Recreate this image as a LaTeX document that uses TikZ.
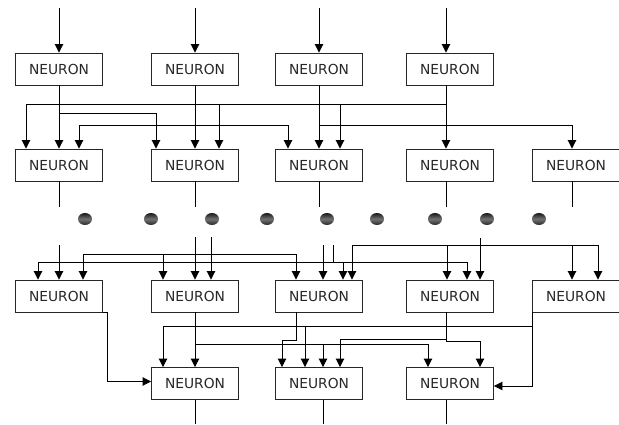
\documentclass[tikz,border=0pt]{standalone}
\usepackage{fontspec}
\setmainfont{DejaVu Sans}
\usetikzlibrary{arrows.meta,shapes.geometric}
\begin{document}
\begin{tikzpicture}[x=1pt,y=-1pt,
  line width=0.9pt, draw=black,
  neuron/.style={draw=black!85, line width=0.9pt, minimum width=87pt, minimum height=32pt, inner sep=0pt,
    font=\fontsize{13.8}{15}\selectfont, text=black!85},
  arr/.style={-{Triangle[length=8.5pt,width=8.5pt]}},
  dotnode/.style={ellipse, minimum width=14pt, minimum height=12pt, inner sep=0pt,
    top color=black!90, bottom color=black!85, middle color=black!55}]
\useasboundingbox (0,0) rectangle (619,425);
% nodes
\node[neuron] (a1) at (59,69) {NEURON};
\node[neuron] (a2) at (195,69) {NEURON};
\node[neuron] (a3) at (319,69) {NEURON};
\node[neuron] (a4) at (450,69) {NEURON};
\node[neuron] (b1) at (59,165) {NEURON};
\node[neuron] (b2) at (195,165) {NEURON};
\node[neuron] (b3) at (319,165) {NEURON};
\node[neuron] (b4) at (450,165) {NEURON};
\node[neuron] (b5) at (576,165) {NEURON};
\node[neuron] (c1) at (59,296) {NEURON};
\node[neuron] (c2) at (195,296) {NEURON};
\node[neuron] (c3) at (319,296) {NEURON};
\node[neuron] (c4) at (450,296) {NEURON};
\node[neuron] (c5) at (576,296) {NEURON};
\node[neuron] (d1) at (195,383.5) {NEURON};
\node[neuron] (d2) at (319,383.5) {NEURON};
\node[neuron] (d3) at (450,383.5) {NEURON};
% dots
\foreach \i/\x in {1/85,2/151,3/212,4/267,5/327,6/377,7/435,8/487,9/539}
  \node[dotnode] (p\i) at (\x,219) {};
% top inputs
\coordinate (i1) at (59,8);
\coordinate (i2) at (195,8);
\coordinate (i3) at (319,8);
\coordinate (i4) at (446,8);
\draw[arr] (i1) -- (i1 |- a1.north);
\draw[arr] (i2) -- (i2 |- a2.north);
\draw[arr] (i3) -- (i3 |- a3.north);
\draw[arr] (i4) -- (i4 |- a4.north);
% row 1 -> row 2
\draw[arr] (a1.south) -- (b1.north);
\draw[arr] (a1.south) -- ++(0,28) -| ([xshift=-39]b2.north);
\draw[arr] (a2.south) -- (b2.north);
\draw[arr] (a2.south) -- ++(0,40) -| ([xshift=20]b1.north);
\draw[arr] (a2.south) -- ++(0,40) -| ([xshift=-31]b3.north);
\draw[arr] (a3.south) -- (b3.north);
\draw[arr] (a3.south) -- ++(0,40) -| ([xshift=-4]b5.north);
\draw[arr] ([xshift=-4]a4.south) -- ([xshift=-4]b4.north);
\draw[arr] ([xshift=-4]a4.south) -- ++(0,19) -| ([xshift=-33]b1.north);
\draw[arr] ([xshift=-4]a4.south) -- ++(0,19) -| ([xshift=24]b2.north);
\draw[arr] ([xshift=-4]a4.south) -- ++(0,19) -| ([xshift=21]b3.north);
% row 2 outputs
\coordinate (o1) at (59,207);
\coordinate (o2) at (195,207);
\coordinate (o3) at (319,207);
\coordinate (o4) at (446,207);
\coordinate (o5) at (572,207);
\draw (o1 |- b1.south) -- (o1);
\draw (o2 |- b2.south) -- (o2);
\draw (o3 |- b3.south) -- (o3);
\draw (o4 |- b4.south) -- (o4);
\draw (o5 |- b5.south) -- (o5);
% row 3 inputs
\coordinate (s1) at (59,245);
\coordinate (s2) at (195,237);
\coordinate (s3) at (211,237);
\coordinate (s4) at (323,245);
\coordinate (s5) at (333,245);
\coordinate (s6) at (480,238);
\draw[arr] (s1) -- (s1 |- c1.north);
\draw[arr] (s2) -- (s2 |- c2.north);
\draw[arr] (s3) -- (s3 |- c2.north);
\draw[arr] (s3) -- ++(0,17) -| ([xshift=24]c1.north);
\draw[arr] (s3) -- ++(0,17) -| ([xshift=-32]c2.north);
\draw[arr] (s3) -- ++(0,17) -| ([xshift=-23]c3.north);
\draw[arr] (s4) -- (s4 |- c3.north);
\draw[arr] (s5) -- ++(0,17) -| ([xshift=-21]c1.north);
\draw[arr] (s5) -- ++(0,17) -| ([xshift=24]c3.north);
\draw[arr] (s5) -- ++(0,17) -| ([xshift=17]c4.north);
\draw[arr] (s6) -- (s6 |- c4.north);
\draw[arr] (s6) -- ++(0,7) -| ([xshift=33]c3.north);
\draw[arr] (s6) -- ++(0,7) -| ([xshift=-3]c4.north);
\draw[arr] (s6) -- ++(0,7) -| ([xshift=-4]c5.north);
\draw[arr] (s6) -- ++(0,7) -| ([xshift=22]c5.north);
% row 3 -> row 4
\draw[arr] (c1.south east) -- ++(4,0) |- ([yshift=2]d1.west);
\draw[arr] (c2.south) -- (d1.north);
\draw[arr] (c2.south) -- ++(0,32) -| ([xshift=4]d2.north);
\draw[arr] (c2.south) -- ++(0,32) -| ([xshift=-22]d3.north);
\draw[arr] ([xshift=-23]c3.south) -- ++(0,28) -| ([xshift=-37]d2.north);
\draw[arr] ([xshift=-4]c4.south) -- ++(0,27) -| ([xshift=21]d2.north);
\draw[arr] ([xshift=-4]c4.south) -- ++(0,29) -| ([xshift=30]d3.north);
\draw[arr] (c5.south west) |- ([yshift=-2.5]d3.east);
\draw[arr] (c5.south west) -- ++(0,14) -| ([xshift=-32]d1.north);
\draw[arr] (c5.south west) -- ++(0,14) -| ([xshift=-14]d2.north);
% row 4 outputs
\coordinate (e1) at (195,424);
\coordinate (e2) at (323,424);
\coordinate (e3) at (446,424);
\draw (e1 |- d1.south) -- (e1);
\draw (e2 |- d2.south) -- (e2);
\draw (e3 |- d3.south) -- (e3);
\end{tikzpicture}
\end{document}
